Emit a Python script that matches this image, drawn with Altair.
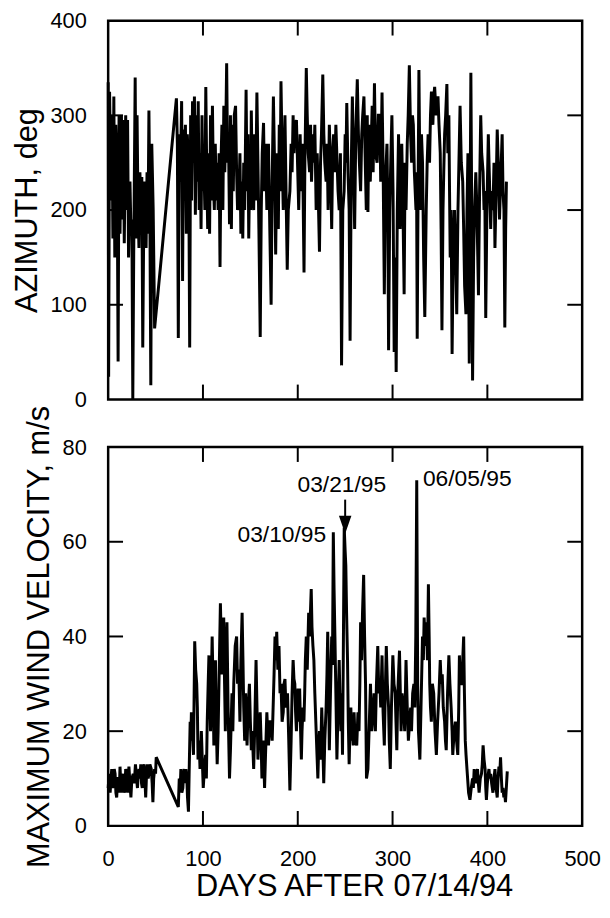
import altair as alt
import pandas as pd

# ---------------- data ----------------
# Azimuth (deg) vs days after 07/14/94
az_days = [0, 0.5, 1.5, 3, 4, 5, 6, 7, 8, 9.5, 10.5, 11.5, 12.5, 14, 15, 16, 17, 18.5, 19.5, 20.5,
           21.5, 23, 24, 25, 26, 27, 28.5, 29.5, 30.5, 31.5, 32.5, 33.5, 34.5, 35.5, 36.5, 37.5, 38.5, 40, 41, 42,
           43, 44, 45, 46, 47.5, 49,
           72, 73, 74, 75, 76, 77.5, 78.5, 79.5, 80.5, 81.5, 82.5, 83.5, 85, 86, 87, 88, 89, 90, 91, 92,
           93, 94, 95, 96, 97, 98, 99, 100, 101, 102, 103, 104, 105, 106, 107, 108, 109, 110, 111, 112,
           113, 114, 115, 116, 117, 118, 119, 120, 121, 122, 123, 124, 125, 126, 127, 128, 129, 130,
           131, 132, 133, 134.4, 135.5, 136.5, 137.8, 139, 140, 141, 142, 143, 144, 145.5, 146.5, 147.5, 148.3, 149.5, 150.2, 151,
           152, 153.5, 154.5, 155.5, 156.9, 158, 159, 160.4, 161.5, 162.5, 163.9, 165, 166, 167.4, 168.3, 169.1, 170.5, 171.9, 173, 174.3,
           175.5, 176.7, 178, 179.5, 180.5, 181.3, 182.3, 183.5, 184.7, 185.5, 186.5, 187.5, 188.9, 190, 191.7, 193, 194, 195.1, 196, 197,
           198.6, 199.5, 201, 202.5, 203.8, 205, 206.6, 207.5, 209, 210, 211, 212.5, 213.5, 214.5, 216, 217, 218, 219.4, 220.5, 221.5,
           222.9, 224, 225, 226.4, 227.5, 228.5, 229.9, 231, 232, 233.3, 234.5, 235.8, 236.8, 237.8, 239, 240.2, 241.5, 242.5, 243.7, 245,
           246.2, 247.5, 248.9, 250, 250.8, 251.7, 253, 254.2, 255.2, 256.5, 257.6, 258.7, 260, 261.2, 262.8, 264, 265, 266.3, 267.5, 268.5,
           269.8, 271, 272.3, 273.3, 274, 275, 276.5, 278.5, 279.5, 280.9, 282, 283.7, 285, 286.5, 287.5, 288.9, 290, 291.3, 292.5, 294.1,
           295, 295.8, 297, 298.3, 299.3, 300.5, 301.7, 302.8, 303.8, 305, 306.3, 307.2, 308, 309, 309.7, 311, 312.2, 313.2, 314.2, 315.5,
           316.5, 317.7, 319, 320.1, 321, 321.9, 323, 324.7, 325.3, 326, 326.8, 327.8, 328.6, 329.5, 330.5, 331.6, 332.8, 334, 335.5, 336.5,
           337.5, 339, 340, 341, 342.5, 343.5, 344.4, 346, 347.9, 349, 350.3, 351.2, 352.1, 353.2, 354, 354.9, 356, 357.3, 358.3, 359.4,
           360.1, 360.8, 361.8, 362.8, 364, 365.3, 366.5, 367.7, 369, 370, 371.2, 372.5, 374, 375, 376, 377.4, 378.5, 379.5, 380.9, 381.8,
           382.6, 383.5, 384.4, 385.5, 386.5, 387.8, 389, 390.6, 391.8, 393, 394, 395.5, 396.5, 397.3, 398.3, 399.5, 401, 402, 403.5, 404.5,
           405.9, 407, 408, 409.2, 410.4, 411.5, 412.8, 414, 415.6, 416.5, 417.5, 418.4, 419.3, 420.1]
az_vals = [335, 24, 325, 210, 300, 170, 320, 150, 290, 240, 40, 300, 175, 300, 190, 295, 165, 300, 200, 295,
           150, 230, 180, 190, 0, 160, 340, 170, 300, 200, 160, 240, 200, 235, 55, 180, 230, 160, 240, 175,
           305, 200, 15, 270, 200, 75,
           318, 270, 65, 280, 230, 315, 125, 285, 260, 290, 175, 280, 240, 55, 300, 210, 315, 250, 320, 195,
           300, 230, 315, 200, 260, 180, 300, 220, 250, 200, 330, 240, 180, 260, 175, 300, 210, 310, 230, 200,
           270, 210, 250, 200, 260, 140, 250, 290, 200, 310, 240, 280, 355, 250, 270, 185, 300, 180,
           290, 220, 300, 310, 240, 200, 209, 260, 175, 230, 170, 250, 200, 327, 220, 280, 170, 260, 200, 305,
           230, 200, 280, 210, 324, 250, 180, 66, 200, 260, 292, 220, 270, 200, 250, 270, 180, 100, 230, 320,
           250, 153, 260, 180, 290, 220, 336, 260, 200, 250, 300, 230, 137, 200, 220, 270, 240, 300, 260, 290,
           295, 260, 200, 280, 220, 270, 134, 250, 350, 300, 260, 240, 290, 230, 280, 250, 290, 200, 260, 220,
           156, 250, 280, 343, 280, 250, 230, 270, 200, 290, 250, 180, 260, 280, 240, 290, 250, 220, 200, 260,
           36, 200, 220, 280, 250, 313, 240, 200, 62, 250, 320, 260, 180, 280, 338, 280, 250, 220, 280, 300,
           320, 260, 200, 300, 198, 290, 230, 310, 240, 334, 260, 250, 300, 300, 230, 324, 250, 111, 230, 270,
           200, 52, 200, 260, 300, 220, 50, 150, 29, 200, 280, 220, 180, 240, 270, 200, 111, 250, 200, 270,
           300, 353, 280, 250, 300, 290, 240, 200, 240, 64, 200, 348, 260, 200, 280, 250, 150, 87, 200, 250,
           280, 250, 300, 325, 290, 320, 330, 300, 320, 290, 260, 180, 73, 200, 240, 280, 300, 333, 260, 300,
           220, 150, 200, 48, 160, 200, 150, 90, 200, 250, 310, 250, 230, 180, 120, 90, 200, 260, 38, 200,
           345, 200, 20, 150, 200, 240, 200, 110, 220, 300, 260, 240, 200, 220, 86, 200, 280, 240, 180, 220,
           200, 250, 160, 220, 285, 250, 190, 230, 280, 220, 200, 76, 180, 230]

# Maximum wind velocity (m/s) vs days after 07/14/94
wv_days = [0, 1, 2.1, 3, 3.8, 4.7, 5.5, 6.4, 7.3, 8.2, 9, 10, 10.8, 11.7, 12.5, 13.3, 14.2, 15, 16, 17,
           17.7, 18.5, 19.4, 20.5, 21.9, 23, 24, 25, 26.4, 27.5, 28.8, 30, 30.9, 31.8, 32.6, 33.5, 34.4, 35.2, 36, 37,
           37.8, 38.7, 39.6, 40.5, 41.3, 42.2, 43, 44, 45.5, 46.4, 47.2, 48, 49, 50, 50.7,
           74, 75, 76, 76.7, 77.7, 78.8, 79.5, 80.2, 81, 82, 83, 83.7, 84.7, 85.5, 86.5, 87.2, 87.8, 89, 90, 91.3,
           92.3, 93.4, 94.1, 94.8, 96, 96.9, 97.6, 98.3, 99.3, 100.3, 101.5, 102.8, 103.6, 104.5, 105.5, 106.3, 107.2, 108, 109, 109.7,
           110.6, 111.5, 112.3, 113.2, 114, 115, 116, 116.7, 117.6, 118.4, 119.2, 120, 121, 121.9, 122.8, 123.6, 124.5, 125.3, 126.5, 128,
           129, 130.6, 131.5, 132.5, 134, 135.5, 136.5, 137.8, 139, 140, 141.3, 142.2, 143, 144, 145, 146.5, 147.5, 149, 150, 151,
           152, 153.5, 154.5, 156, 157, 158, 159, 160.4, 161.3, 162.2, 163.5, 165, 166, 167.4, 168.2, 169.1, 170.5, 171.9, 173, 174.3,
           175, 176, 177, 177.8, 179, 180.2, 181.3, 182.3, 183.5, 184.7, 185.5, 186.5, 187.5, 189.2, 190.5, 191.7, 193, 194, 195.1, 196,
           196.9, 197.7, 198.6, 199.5, 200.3, 201, 202, 203, 203.8, 204.5, 205.5, 206.5, 207.3, 208, 209, 210, 211.5, 212.5, 214.2, 215,
           216, 217, 218, 219.4, 220.3, 221.2, 222, 222.9, 224, 225.3, 226.3, 227.4, 228.5, 229.9, 230.8, 231.6, 232.5, 233.3, 234.5, 235.8,
           236.6, 237.5, 238.3, 239.2, 240.2, 241.3, 242.5, 243.7, 244.5, 245.5, 246.3, 247.2, 248, 249, 250, 250.7, 251.5, 252.5, 253.3, 254.2,
           255, 256, 256.8, 257.6, 258.5, 259.4, 260.5, 262.2, 263.5, 264.6, 265.5, 266.3, 267.3, 268.3, 269.5, 270.5, 271.5, 272.5, 274, 275.5,
           276.7, 278, 279.5, 280.5, 281.9, 283, 284.4, 285.5, 286.5, 287.5, 288.9, 290, 291.3, 292.3, 293.4, 294.5, 295.8, 296.5, 297.6, 298.8,
           300.3, 301.5, 302.8, 303.6, 304.5, 305.5, 307.3, 308, 309, 310, 311.5, 312.8, 314.2, 315.5, 316.7, 318, 319.1, 320, 321.2, 322.5,
           323.5, 324.5, 325.5, 326.5, 327.3, 328.8, 330, 331.6, 332.5, 333.3, 334.5, 335.7, 336.8, 337.8, 338.6, 339.2, 340, 340.9, 342, 343.4,
           344.8, 346.2, 347.5, 349, 350.3, 351.3, 352.4, 353.5, 354.9, 355.8, 356.6, 358, 359.4, 360.5, 361.8, 362.8, 363.5, 365, 366.3, 367.5,
           368.8, 369.8, 370.5, 371.5, 373, 374, 375, 375.8, 376.7, 377.5, 378.5, 380.2, 381.6, 383, 384.4, 385.2, 386.1, 387, 387.9, 388.8,
           389.6, 390.5, 391.3, 392.5, 393.8, 394.6, 395.5, 396.5, 397.6, 398.3, 399, 400, 401, 401.7, 402.5, 403.5, 404.5, 405.9, 407, 408,
           409.2, 410.4, 411.3, 412.2, 413.1, 413.9, 414.8, 415.6, 416.5, 417.4, 418.2, 419.1, 420, 421]
wv_vals = [8, 11, 7, 10, 12, 8, 9, 12, 11, 7, 6, 10, 10, 7, 12.5, 9, 7, 10, 11, 7,
           8, 12, 11, 7, 12.5, 9, 6, 10, 11, 9, 13, 10, 8, 11, 12, 10, 13, 9, 8, 12,
           13, 10, 6, 11, 13, 10, 11, 13, 12, 9, 5, 10, 12, 11, 14.5,
           4, 10, 8, 12, 7, 8, 11, 12, 9, 12, 10, 6, 3, 12, 22, 18, 24, 20, 15, 39,
           33, 30, 25, 14, 18, 12, 16, 20, 14, 8, 12, 15, 10, 22, 30, 36, 28, 20, 32, 40,
           30, 17, 25, 35, 22, 13, 20, 28, 38, 47, 40, 32, 38, 44, 30, 20, 35, 43, 25, 10,
           16, 28, 20, 30, 38, 40, 30, 33, 22, 35, 45, 35, 25, 18, 28, 17, 24, 30, 22, 16,
           20, 12, 20, 35, 25, 14, 20, 24, 18, 10, 18, 8, 15, 24, 20, 17, 22, 22, 18, 27,
           32, 40, 35, 41, 33, 38, 28, 30, 22, 24, 30, 31, 25, 28, 18, 7.5, 18, 28, 35, 31,
           30, 24, 20, 25, 29, 22, 29, 20, 14, 20, 25, 22, 28, 35, 40, 33, 45, 40, 50, 42,
           38, 35, 28, 20, 15, 10, 16, 20, 14, 25, 18, 9, 18, 25, 32, 41, 30, 16, 28, 40,
           34, 62, 50, 40, 28, 14, 25, 35, 27, 20, 28, 15, 35, 63, 58, 55, 45, 35, 22, 13,
           20, 25, 18, 20, 17, 24, 18, 17, 24, 20, 30, 43, 35, 45, 53, 40, 30, 10, 12, 22,
           30, 20, 24, 28, 20, 30, 38, 28, 31, 25, 36, 24, 17, 28, 38, 30, 25, 18, 12, 25,
           36, 30, 28, 22, 16, 28, 37, 30, 20, 28, 25, 20, 35, 25, 18, 22, 25, 20, 28, 30,
           25, 40, 73, 30, 20, 14, 25, 40, 35, 44, 38, 43, 35, 51, 40, 30, 25, 22, 30, 28,
           20, 15, 22, 28, 35, 30, 32, 25, 22, 18, 16, 28, 36, 30, 25, 20, 15, 20, 22, 18,
           15, 25, 36, 30, 30, 35, 40, 28, 18, 15, 12, 7, 5.5, 8, 10, 8, 12, 10, 9, 11,
           12, 9, 7, 10, 11, 13, 17, 14, 12, 8, 5.5, 9, 11, 12, 10, 11, 9, 7, 10, 12,
           8, 6, 10, 12.5, 11, 14.5, 10, 7, 8, 6, 7, 5, 8, 11.5]

# axis values
x_labels = [0, 100, 200, 300, 400, 500]
x_inner_ticks = [100, 200, 300, 400]
az_labels = [0, 100, 200, 300, 400]
az_inner_ticks = [100, 200, 300]
wv_labels = [0, 20, 40, 60, 80]
wv_inner_ticks = [20, 40, 60]

# annotations
ann_text = ["03/21/95", "03/10/95", "06/05/95"]
ann_day = [246.5, 230.0, 332.0]
ann_val = [72.0, 61.5, 73.3]
ann_align = ["center", "right", "left"]
arrow_day = [250]
arrow_top = [68.9]
arrow_bot = [65.0]
arrow_head = [63.6]

# ---------------- chart ----------------
W, H = 478, 382
TK = 15
FONT = "Liberation Sans"

az_df = pd.DataFrame({"day": az_days, "val": az_vals})
wv_df = pd.DataFrame({"day": wv_days, "val": wv_vals})
xt_df = pd.DataFrame({"v": x_inner_ticks})
azt_df = pd.DataFrame({"v": az_inner_ticks})
wvt_df = pd.DataFrame({"v": wv_inner_ticks})

xscale = alt.Scale(domain=[0, 500], nice=False, zero=False)
az_scale = alt.Scale(domain=[0, 400], nice=False)
wv_scale = alt.Scale(domain=[0, 80], nice=False)

AX = dict(ticks=False, domain=False, grid=False,
          labelFont=FONT, labelFontSize=22, labelColor="black",
          titleFont=FONT, titleFontSize=31, titleFontWeight="normal", titleColor="black")

x_axis_bottom = alt.Axis(values=x_labels, title="DAYS AFTER 07/14/94", labelPadding=23,
                         titlePadding=2, labelFlush=False, titleX=248, **AX)
az_axis = alt.Axis(values=az_labels, title="AZIMUTH, deg", labelPadding=22, titlePadding=7, **AX)
wv_axis = alt.Axis(values=wv_labels, title="MAXIMUM WIND VELOCITY, m/s", labelPadding=22,
                   titlePadding=7, **AX)


def panel(df, tdf, yscale, yaxis, xaxis):
    line = alt.Chart(df).mark_line(color="black", strokeWidth=3).encode(
        x=alt.X("day:Q", scale=xscale, axis=xaxis),
        y=alt.Y("val:Q", scale=yscale, axis=yaxis),
    )
    xt_top = alt.Chart(xt_df).mark_rule(color="black", strokeWidth=2).encode(
        x=alt.X("v:Q", scale=xscale, axis=xaxis), y=alt.value(0), y2=alt.value(TK))
    xt_bot = alt.Chart(xt_df).mark_rule(color="black", strokeWidth=2).encode(
        x=alt.X("v:Q", scale=xscale, axis=xaxis), y=alt.value(H - TK), y2=alt.value(H))
    yt_left = alt.Chart(tdf).mark_rule(color="black", strokeWidth=2).encode(
        y=alt.Y("v:Q", scale=yscale, axis=yaxis), x=alt.value(0), x2=alt.value(TK))
    yt_right = alt.Chart(tdf).mark_rule(color="black", strokeWidth=2).encode(
        y=alt.Y("v:Q", scale=yscale, axis=yaxis), x=alt.value(W - TK), x2=alt.value(W))
    return [line, xt_top, xt_bot, yt_left, yt_right]


top_layers = panel(az_df, azt_df, az_scale, az_axis, None)
top = alt.layer(*top_layers).properties(width=W, height=H)

bot_layers = panel(wv_df, wvt_df, wv_scale, wv_axis, x_axis_bottom)

ann_layers = []
for t, d, v, a in zip(ann_text, ann_day, ann_val, ann_align):
    adf = pd.DataFrame({"day": [d], "val": [v], "t": [t]})
    ann_layers.append(
        alt.Chart(adf).mark_text(font=FONT, fontSize=23, color="black", align=a,
                                 baseline="middle").encode(
            x=alt.X("day:Q", scale=xscale, axis=x_axis_bottom),
            y=alt.Y("val:Q", scale=wv_scale, axis=wv_axis),
            text="t:N")
    )

arr_df = pd.DataFrame({"day": arrow_day, "top": arrow_top, "bot": arrow_bot, "head": arrow_head})
shaft = alt.Chart(arr_df).mark_rule(color="black", strokeWidth=2).encode(
    x=alt.X("day:Q", scale=xscale, axis=x_axis_bottom),
    y=alt.Y("top:Q", scale=wv_scale, axis=wv_axis),
    y2="bot:Q")
head = alt.Chart(arr_df).mark_point(shape="M-0.7,-1L0.7,-1L0,1Z", filled=True, size=324,
                                    color="black", opacity=1).encode(
    x=alt.X("day:Q", scale=xscale, axis=x_axis_bottom),
    y=alt.Y("head:Q", scale=wv_scale, axis=wv_axis))

bottom = alt.layer(*bot_layers, *ann_layers, shaft, head).properties(width=W, height=H)

chart = alt.vconcat(top, bottom, spacing=48, bounds="flush").properties(
    padding={"left": 2, "top": -4, "right": 0, "bottom": -6}
).configure(
    background="white"
).configure_view(
    stroke="black", strokeWidth=2.5
)

chart.save("out.html", embed_options={"renderer": "svg", "actions": False})
